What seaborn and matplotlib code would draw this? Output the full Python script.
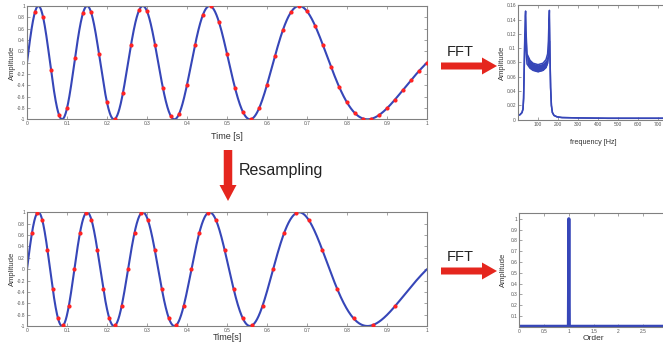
import numpy as np
import pandas as pd
import matplotlib
matplotlib.use("Agg")
import matplotlib.pyplot as plt
import seaborn as sns
from matplotlib.patches import FancyArrow

# ---------------- data ----------------
F_START = 8.9          # Hz, instantaneous frequency at t = 0 (from peak spacing)
F_END = 1.1            # Hz, instantaneous frequency at t = 1
T_END = 1.0
N_CURVE = 1200
TIME_STEP = 0.02       # uniform time sampling (red dots, top)
ANGLE_STEP_DEG = 40    # uniform angle sampling (red dots, bottom)
N_ANGLE_SAMPLES = 44

time_ticks = [0, 0.1, 0.2, 0.3, 0.4, 0.5, 0.6, 0.7, 0.8, 0.9, 1]
amp_ticks = [-1, -0.8, -0.6, -0.4, -0.2, 0, 0.2, 0.4, 0.6, 0.8, 1]

spec_freq = [0, 10, 20, 25, 28, 31, 34, 36, 38, 40, 45, 60, 75, 100, 125, 140,
             148, 152, 155, 157, 160, 163, 167, 172, 180, 195, 220, 300, 450, 600, 750]
spec_upper = [0.006, 0.007, 0.010, 0.015, 0.030, 0.070, 0.120, 0.145, 0.152, 0.125,
              0.092, 0.083, 0.079, 0.077, 0.079, 0.084, 0.092, 0.110, 0.140, 0.153,
              0.090, 0.045, 0.020, 0.010, 0.006, 0.004, 0.003, 0.0025, 0.002, 0.002, 0.002]
spec_lower = [0.006, 0.007, 0.010, 0.015, 0.030, 0.070, 0.110, 0.120, 0.115, 0.100,
              0.078, 0.072, 0.069, 0.067, 0.069, 0.073, 0.079, 0.088, 0.100, 0.110,
              0.085, 0.045, 0.020, 0.010, 0.006, 0.004, 0.003, 0.0025, 0.002, 0.002, 0.002]
freq_ticks = [0, 100, 200, 300, 400, 500, 600, 700]
freq_tick_labels = ["", "100", "200", "300", "400", "500", "600", "700"]
spec_yticks = [0, 0.02, 0.04, 0.06, 0.08, 0.1, 0.12, 0.14, 0.16]

order_x = [0, 0.99, 1.0, 1.01, 3.0]
order_amp = [0.004, 0.004, 1.0, 0.004, 0.004]
order_xticks = [0, 0.5, 1, 1.5, 2, 2.5]
order_yticks = [0.1, 0.2, 0.3, 0.4, 0.5, 0.6, 0.7, 0.8, 0.9, 1]

# ---------------- derived signal ----------------
k_rate = (F_END - F_START) / T_END


def phase_cycles(t):
    return F_START * t + 0.5 * k_rate * t ** 2


t_curve = np.linspace(0, T_END, N_CURVE)
y_curve = np.sin(2 * np.pi * phase_cycles(t_curve))

t_uni = np.arange(1, int(round(T_END / TIME_STEP)) + 1) * TIME_STEP
y_uni = np.sin(2 * np.pi * phase_cycles(t_uni))

cyc = np.arange(1, N_ANGLE_SAMPLES + 1) * ANGLE_STEP_DEG / 360.0
a = 0.5 * k_rate
t_ang = (-F_START + np.sqrt(F_START ** 2 + 4 * a * cyc)) / (2 * a)
y_ang = np.sin(2 * np.pi * phase_cycles(t_ang))

# ---------------- figure ----------------
sns.set_style("white")
plt.rcParams['font.family'] = ['Liberation Sans', 'DejaVu Sans']

W, H = 663, 345
fig = plt.figure(figsize=(W / 100, H / 100), dpi=100)
fig.patch.set_facecolor("white")

BLUE = "#3646b8"
RED = "#ff2222"
SPINE = "#808080"
TICKC = "#555555"


def add_ax(l, t, r, b):
    return fig.add_axes([l / W, 1 - b / H, (r - l) / W, (b - t) / H])


def style(ax):
    for s in ax.spines.values():
        s.set_color(SPINE)
        s.set_linewidth(0.8)
        s.set_visible(True)
    ax.tick_params(direction="in", length=2, width=0.5, labelsize=3.5,
                   pad=1.5, colors=SPINE, labelcolor=TICKC,
                   top=True, right=True, bottom=True, left=True)


def fmt(v):
    return f"{v:g}"


ax1 = add_ax(27, 6, 427, 119.3)
ax2 = add_ax(27, 212.3, 427, 326)
for ax, td, yd, lab, ly in [(ax1, t_uni, y_uni, "Time [s]", -0.112),
                            (ax2, t_ang, y_ang, "Time[s]", -0.062)]:
    sns.lineplot(x=t_curve, y=y_curve, ax=ax, color=BLUE, linewidth=1.5,
                 estimator=None, sort=False)
    sns.scatterplot(x=td, y=yd, ax=ax, color=RED, s=9, linewidth=0, zorder=5)
    ax.set_xlim(0, 1)
    ax.set_ylim(-1, 1)
    ax.set_xticks(time_ticks)
    ax.set_xticklabels([fmt(v) for v in time_ticks])
    ax.set_yticks(amp_ticks)
    ax.set_yticklabels([fmt(v) for v in amp_ticks])
    style(ax)
    ax.set_xlabel(lab, fontsize=6.5, color="#333333")
    ax.xaxis.set_label_coords(0.5, ly)
    ax.set_ylabel("Amplitude", fontsize=5.5, color="#333333")
    ax.yaxis.set_label_coords(-0.027, 0.5)

# spectrum
ax3 = add_ax(518, 5.3, 668, 119.7)
ax3.fill_between(spec_freq, spec_lower, spec_upper, color=BLUE, linewidth=0)
sns.lineplot(x=spec_freq, y=spec_upper, ax=ax3, color=BLUE, linewidth=1.1,
             estimator=None, sort=False)
sns.lineplot(x=spec_freq, y=spec_lower, ax=ax3, color=BLUE, linewidth=1.1,
             estimator=None, sort=False)
ax3.set_xlim(0, 750)
ax3.set_ylim(0, 0.16)
ax3.set_xticks(freq_ticks)
ax3.set_xticklabels(freq_tick_labels)
ax3.set_yticks(spec_yticks)
ax3.set_yticklabels([fmt(v) for v in spec_yticks])
style(ax3)
ax3.set_xlabel("frequency [Hz]", fontsize=5.2, color="#333333")
ax3.xaxis.set_label_coords(0.5, -0.17)
ax3.set_ylabel("Amplitude", fontsize=5.5, color="#333333")
ax3.yaxis.set_label_coords(-0.08, 0.5)

# order spectrum
ax4 = add_ax(519.3, 213.3, 668, 326.7)
sns.lineplot(x=order_x, y=order_amp, ax=ax4, color=BLUE, linewidth=2.2,
             estimator=None, sort=False)
ax4.set_xlim(0, 3)
ax4.set_ylim(0, 1.05)
ax4.set_xticks(order_xticks)
ax4.set_xticklabels([fmt(v) for v in order_xticks])
ax4.set_yticks(order_yticks)
ax4.set_yticklabels([fmt(v) for v in order_yticks])
style(ax4)
ax4.set_xlabel("Order", fontsize=6, color="#333333")
ax4.xaxis.set_label_coords(0.5, -0.073)
ax4.set_ylabel("Amplitude", fontsize=5.5, color="#333333")
ax4.yaxis.set_label_coords(-0.08, 0.5)

# overlay for arrows and annotations
ov = fig.add_axes([0, 0, 1, 1], zorder=10)
ov.set_xlim(0, W)
ov.set_ylim(H, 0)
ov.axis("off")
ov.patch.set_alpha(0)
AR = "#e5261e"
for yy in (66, 271):
    ov.add_patch(FancyArrow(441, yy, 56, 0, width=7, head_width=17, head_length=15,
                            length_includes_head=True, color=AR, linewidth=0))
ov.add_patch(FancyArrow(228, 150, 0, 51, width=8.5, head_width=17, head_length=16,
                        length_includes_head=True, color=AR, linewidth=0))
ov.text(460, 52, "FFT", fontsize=10.5, ha="center", va="center", color="#222222")
ov.text(460, 257, "FFT", fontsize=10.5, ha="center", va="center", color="#222222")
ov.text(239, 170, "Resampling", fontsize=11.5, ha="left", va="center", color="#222222")

fig.savefig("out.png", dpi=100)
